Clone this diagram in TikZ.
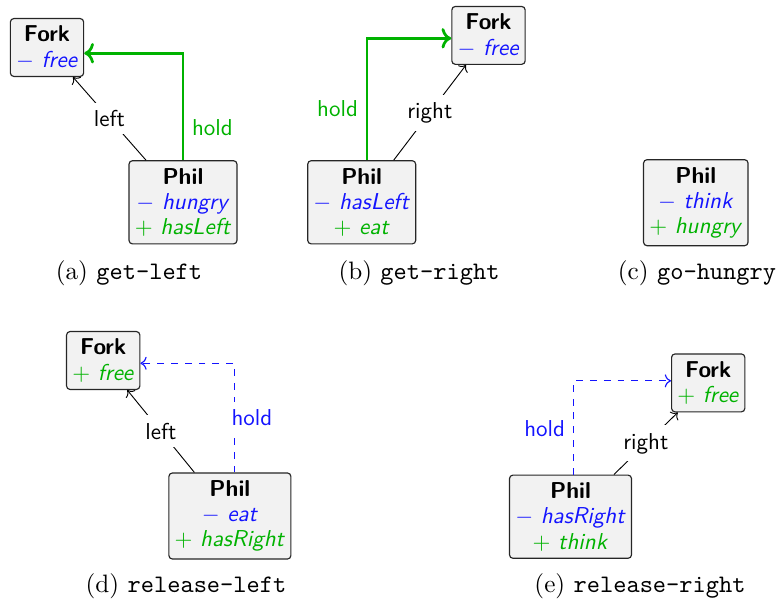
\documentclass[tikz,border=0pt]{standalone}
\usetikzlibrary{arrows.meta}
\definecolor{addgreen}{RGB}{0,178,0}
\definecolor{delblue}{RGB}{20,20,255}
\definecolor{boxfill}{gray}{0.95}
\newcommand{\delx}[1]{\textcolor{delblue}{$-$ \textit{#1}}}
\newcommand{\addx}[1]{\textcolor{addgreen}{$+$ \textit{#1}}}
\begin{document}
\begin{tikzpicture}[x=0.43478pt, y=-0.43478pt,
  obj/.style={draw=black!85, fill=boxfill, rounded corners=1.5pt, align=center,
    font=\sffamily\fontsize{10}{11}\selectfont, inner xsep=2.5pt, inner ysep=3.2pt,
    line width=0.5pt},
  link/.style={->, black, line width=0.4pt},
  holdadd/.style={->, addgreen, line width=1.2pt},
  holddel/.style={->, delblue, dashed, line width=0.5pt},
  lbl/.style={font=\sffamily\fontsize{10}{11}\selectfont},
  subcap/.style={anchor=base, font=\fontsize{10.95}{13.6}\selectfont}]
\useasboundingbox (0,0) rectangle (776,602);

% (a) get-left
\node[obj] (fa) at (47,47.5) {\textbf{Fork}\\\delx{free}};
\node[obj] (pa) at (183,202.3) {\textbf{Phil}\\\delx{hungry}\\\addx{hasLeft}};
\draw[link] (pa) -- (fa) node[lbl, midway, fill=white] {left};
\draw[holdadd] (pa.north) |- ([yshift=-2.5pt]fa.east)
  node[lbl, pos=0.15, right, text=addgreen] {hold};
\node[subcap] (ca) at (129,280) {(a) \texttt{get-left}};

% (b) get-right
\node[obj] (fb) at (488.5,35.4) {\textbf{Fork}\\\delx{free}};
\node[obj] (pb) at (361.7,202.3) {\textbf{Phil}\\\delx{hasLeft}\\\addx{eat}};
\draw[link] (pb) -- (fb) node[lbl, midway, fill=white] {right};
\draw[holdadd] ([xshift=2.3pt]pb.north) |- ([yshift=-1.26pt]fb.west)
  node[lbl, pos=0.21, left, text=addgreen] {hold};
\node[subcap] (cb) at (419,280) {(b) \texttt{get-right}};

% (c) go-hungry
\node[obj] (pc) at (695.8,202.7) {\textbf{Phil}\\\delx{think}\\\addx{hungry}};
\node[subcap] (cc) at (697,280) {(c) \texttt{go-hungry}};

% (d) release-left
\node[obj] (fd) at (103.2,360.5) {\textbf{Fork}\\\addx{free}};
\node[obj] (pd) at (229.9,516) {\textbf{Phil}\\\delx{eat}\\\addx{hasRight}};
\draw[link] (pd) -- (fd) node[lbl, midway, fill=white] {left};
\draw[holddel] ([xshift=1.9pt]pd.north) |- ([yshift=-1.2pt]fd.east)
  node[lbl, pos=0.25, xshift=7.7pt, fill=white, text=delblue] {hold};
\node[subcap] (cd) at (186,592) {(d) \texttt{release-left}};

% (e) release-right
\node[obj] (fe) at (708.2,382.9) {\textbf{Fork}\\\addx{free}};
\node[obj] (pe) at (570.5,516.7) {\textbf{Phil}\\\delx{hasRight}\\\addx{think}};
\draw[link] (pe) -- (fe) node[lbl, midway, fill=white] {right};
\draw[holddel] ([xshift=1.2pt]pe.north) |- ([yshift=0.9pt]fe.west)
  node[lbl, pos=0.245, left, text=delblue] {hold};
\node[subcap] (ce) at (640,592) {(e) \texttt{release-right}};
\end{tikzpicture}
\end{document}
